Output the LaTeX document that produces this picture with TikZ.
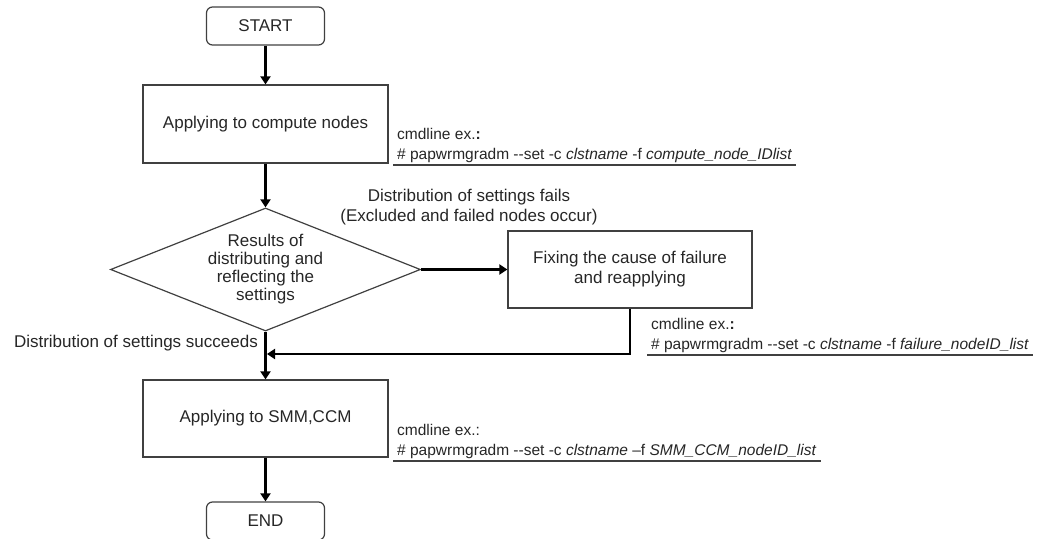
\documentclass[tikz,border=0pt]{standalone}
\usepackage{fontspec}
\setmainfont{Liberation Sans}
\usetikzlibrary{arrows.meta,shapes.geometric}
\definecolor{inkgray}{HTML}{262626}
\definecolor{framegray}{HTML}{404040}
\newcommand\mainsize{\fontsize{17pt}{20pt}\selectfont}
\newcommand\cmdsize{\fontsize{15.5pt}{20pt}\selectfont}
\begin{document}
\begin{tikzpicture}[x=1pt,y=-1pt,
  terminal/.style={draw=framegray,line width=1.2pt,rounded corners=6pt,
    minimum width=118pt,minimum height=38pt,inner sep=0pt,font=\mainsize,text=inkgray},
  procbox/.style={draw=framegray,line width=1.2pt,minimum width=245pt,
    minimum height=78pt,inner sep=0pt,align=center,font=\mainsize,text=inkgray},
  decision/.style={draw=framegray,line width=1.2pt,diamond,inner sep=0pt,
    minimum width=310pt,minimum height=123pt},
  plain/.style={align=center,font=\mainsize,text=inkgray,inner sep=0pt},
  cmdtext/.style={anchor=south west,align=left,font=\cmdsize,text=inkgray,
    inner xsep=4pt,inner ysep=2pt},
  uline/.style={draw=framegray,line width=1.2pt},
  flow/.style={draw=black,line width=2.6pt,-{Triangle[length=8pt,width=10pt]}}]
  \clip (0,0) rectangle (1046,538);

  % main column
  \node[terminal] (start) at (265.5,26) {START};
  \node[procbox] (apply1) at (265.5,124) {Applying to compute nodes};
  \node[decision] (dia) at (265.5,269.5) {};
  \node[plain,font=\fontsize{17pt}{18pt}\selectfont] (diatext) at (dia.center)
    {Results of\\distributing and\\reflecting the\\settings};
  \node[procbox,minimum width=244pt,minimum height=77pt] (fix) at (630,269.5)
    {Fixing the cause of failure\\and reapplying};
  \node[procbox,minimum height=77pt] (apply2) at (265.5,418.5) {Applying to SMM,CCM};
  \node[terminal] (finish) at (265.5,521) {END};

  % connectors
  \draw[flow] (start) -- (apply1);
  \draw[flow] (apply1) -- (dia);
  \draw[flow] (dia.east) -- (fix.west);
  \draw[flow] (dia) -- (apply2);
  \draw[flow] (apply2) -- (finish);
  \coordinate (merge) at (267,354);
  \draw[flow] (fix.south) |- (merge);

  % branch labels
  \node[plain] (faillbl) at (469,207)
    {Distribution of settings fails\\(Excluded and failed nodes occur)};
  \node[plain,anchor=east] (oklbl) at (258,343) {Distribution of settings succeeds};

  % command line examples
  \node[cmdtext] (cmd1) at (393,165)
    {cmdline ex.\textbf{:}\\\# papwrmgradm -{}-set -c \textit{clstname} -f \textit{compute\_node\_IDlist}};
  \draw[uline] (cmd1.south west) -- (cmd1.south east);
  \node[cmdtext] (cmd2) at (647,355)
    {cmdline ex.\textbf{:}\\\# papwrmgradm -{}-set -c \textit{clstname} -f \textit{failure\_nodeID\_list}};
  \draw[uline] (cmd2.south west) -- (cmd2.south east);
  \node[cmdtext] (cmd3) at (393,461)
    {cmdline ex.:\\\# papwrmgradm -{}-set -c \textit{clstname} –f \textit{SMM\_CCM\_nodeID\_list}};
  \draw[uline] (cmd3.south west) -- (cmd3.south east);
\end{tikzpicture}
\end{document}
